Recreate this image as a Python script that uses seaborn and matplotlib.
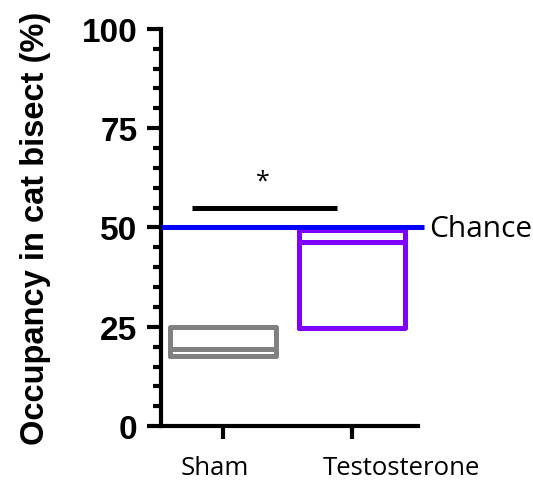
import pandas as pd
import seaborn as sns
import matplotlib.pyplot as plt
import matplotlib.transforms as mtransforms
from matplotlib.ticker import MultipleLocator

# Data: each box spans min..max with a line at the median
groups = ["Sham", "Testosterone"]
box_low = [17.6, 24.6]
box_median = [19.3, 46.3]
box_high = [24.9, 49.3]
colors = {"Sham": "#808080", "Testosterone": "#8000ff"}
chance = 50
sig_y = 55
sig_label = "*"

# boxplot quartiles on [lo, lo, med, hi, hi] give box = lo..hi, line = med
rows = []
for g, lo, md, hi in zip(groups, box_low, box_median, box_high):
    for v in [lo, lo, md, hi, hi]:
        rows.append({"group": g, "value": v})
df = pd.DataFrame(rows)

sns.set_style("ticks", {"text.color": "black", "axes.edgecolor": "black",
                        "axes.labelcolor": "black", "xtick.color": "black",
                        "ytick.color": "black"})
fig = plt.figure(figsize=(5.33, 4.81), dpi=100)
ax = fig.add_axes([0.302, 0.112, 0.482, 0.826])

sns.boxplot(data=df, x="group", y="value", hue="group", palette=colors,
            fill=False, width=0.82, whis=0, showcaps=False, showfliers=False,
            linewidth=3.6, legend=False, ax=ax)

# chance level
ax.hlines(chance, -0.48, 1.56, color="#0000ff", lw=3.6, clip_on=False, zorder=3)
ax.text(1.6, chance - 0.3, "Chance", fontsize=21.5, family="Open Sans",
        va="center", ha="left", color="black")

# significance bar
ax.hlines(sig_y, -0.24, 0.88, color="black", lw=3.6)
ax.text(0.31, sig_y + 3.5, sig_label, fontsize=18, family="Open Sans",
        ha="center", va="bottom", color="black")

ax.set_xlim(-0.48, 1.51)
ax.set_ylim(0, 100)
ax.set_yticks([0, 25, 50, 75, 100])
ax.yaxis.set_minor_locator(MultipleLocator(5))
sns.despine(ax=ax)
for s in ["left", "bottom"]:
    ax.spines[s].set_linewidth(3)

ax.tick_params(axis="y", which="major", length=10, width=3, pad=7)
ax.tick_params(axis="y", which="minor", length=6, width=3)
ax.tick_params(axis="x", length=9, width=3, pad=12)
for t in ax.get_yticklabels():
    t.set_fontsize(24)
    t.set_fontweight("bold")
    t.set_family("Liberation Sans")
# labels sit a little off their ticks in the original
for t, dx in zip(ax.get_xticklabels(), [-8, 49]):
    t.set_fontsize(18.5)
    t.set_family("Open Sans")
    t.set_transform(t.get_transform() +
                    mtransforms.ScaledTranslation(dx / 100, 0, fig.dpi_scale_trans))

ax.set_xlabel("")
ax.set_ylabel("Occupancy in cat bisect (%)", fontsize=23.5, fontweight="bold",
              family="Liberation Sans", labelpad=22)

fig.savefig("out.png", dpi=100)
